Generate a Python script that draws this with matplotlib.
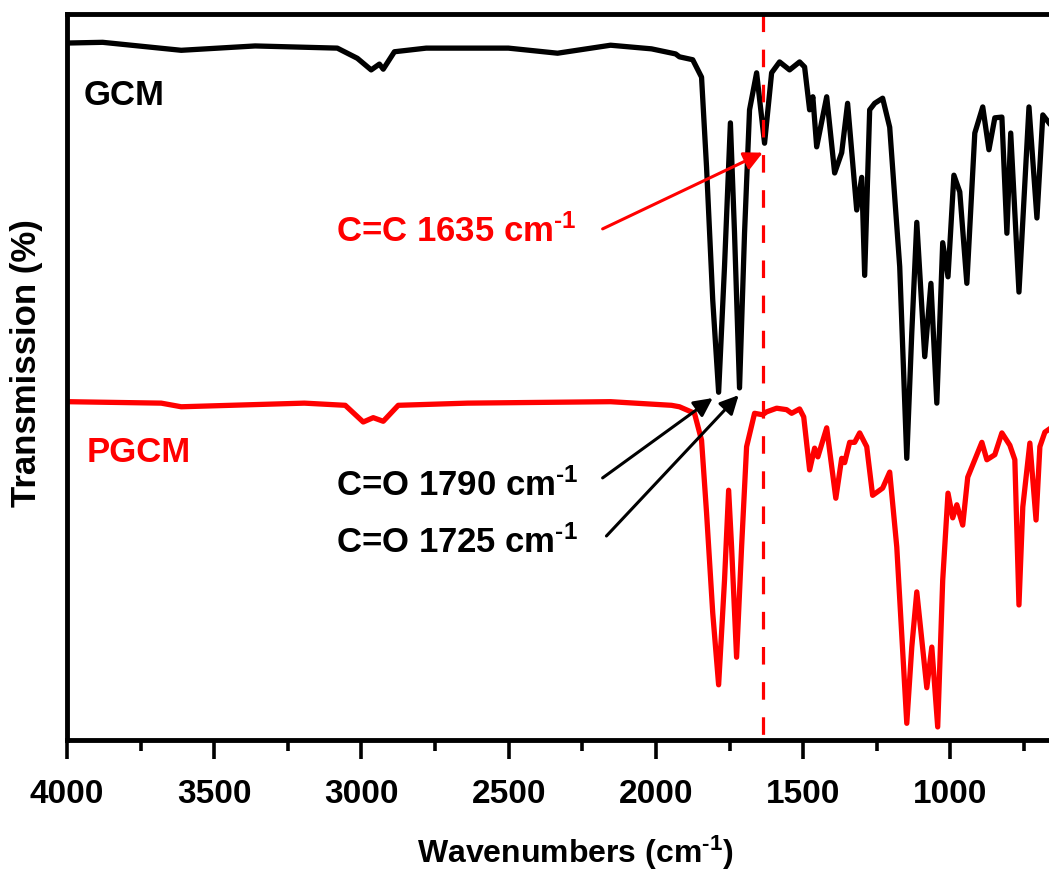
import matplotlib
matplotlib.use("Agg")
import matplotlib.pyplot as plt
from matplotlib.ticker import MultipleLocator

plt.rcParams['font.family'] = ['Liberation Sans', 'DejaVu Sans']
plt.rcParams['font.weight'] = 'bold'
plt.rcParams['mathtext.fontset'] = 'custom'
plt.rcParams['mathtext.rm'] = 'Liberation Sans:bold'
plt.rcParams['mathtext.bf'] = 'Liberation Sans:bold'
plt.rcParams['mathtext.it'] = 'Liberation Sans:bold'
plt.rcParams['mathtext.default'] = 'rm'

# GCM spectrum (wavenumber, transmission, offset upward)
gcm_wn = [4000, 3879, 3612, 3361, 3082, 3014, 2967, 2939, 2926, 2888, 2780, 2501,
          2334, 2154, 2015, 1933, 1920, 1875, 1845, 1828, 1807, 1787, 1767, 1747,
          1733, 1716, 1699, 1682, 1658, 1631, 1607, 1580, 1546, 1512, 1495, 1478,
          1467, 1454, 1420, 1393, 1369, 1349, 1318, 1301, 1291, 1274, 1257, 1230,
          1206, 1172, 1148, 1131, 1114, 1087, 1066, 1046, 1026, 1008, 988, 968,
          944, 917, 890, 869, 849, 825, 808, 795, 767, 733, 706, 686, 665]
gcm_t = [96.0, 96.1, 95.0, 95.6, 95.3, 93.9, 92.3, 93.1, 92.4, 94.8, 95.3, 95.3,
         94.6, 95.7, 95.2, 94.5, 94.1, 93.7, 91.3, 78.9, 60.6, 47.9, 65.2, 85.0,
         69.8, 48.5, 69.8, 86.8, 91.9, 82.2, 91.9, 93.4, 92.3, 93.4, 92.7, 86.8,
         88.6, 81.7, 88.6, 78.1, 80.9, 87.7, 73.0, 77.5, 64.0, 86.8, 87.7, 88.4,
         84.4, 65.2, 38.8, 56.1, 71.3, 52.8, 62.9, 46.4, 68.5, 63.8, 77.8, 75.5,
         62.9, 83.6, 87.2, 81.3, 85.7, 85.8, 69.8, 83.6, 61.7, 87.2, 71.9, 86.1, 85.0]

# PGCM spectrum
pgcm_wn = [4000, 3680, 3612, 3194, 3055, 2994, 2960, 2926, 2875, 2640, 2154, 1947,
           1920, 1869, 1845, 1828, 1807, 1787, 1767, 1753, 1743, 1726, 1709, 1692,
           1665, 1638, 1624, 1590, 1556, 1539, 1512, 1498, 1478, 1461, 1450, 1420,
           1389, 1369, 1359, 1342, 1325, 1308, 1284, 1264, 1240, 1230, 1206, 1182,
           1148, 1131, 1114, 1080, 1063, 1043, 1026, 1008, 992, 978, 958, 941,
           917, 893, 876, 849, 825, 798, 781, 767, 754, 730, 709, 696, 679, 665]
pgcm_t = [46.6, 46.4, 45.9, 46.4, 46.1, 43.8, 44.4, 43.9, 46.1, 46.4, 46.6, 46.1,
          45.9, 45.0, 41.3, 31.3, 17.5, 7.6, 22.0, 34.4, 26.6, 11.4, 26.6, 40.4,
          45.0, 44.8, 45.2, 45.7, 45.5, 45.0, 45.6, 44.5, 37.2, 40.2, 39.0, 43.0,
          33.3, 38.8, 38.2, 41.0, 41.0, 42.3, 40.4, 33.7, 34.4, 34.7, 36.9, 26.6,
          2.3, 12.8, 20.4, 7.2, 12.8, 1.8, 22.0, 34.0, 30.6, 32.4, 29.6, 36.2,
          38.6, 41.0, 38.6, 39.3, 42.3, 40.6, 38.6, 18.6, 32.1, 40.9, 30.3, 40.4,
          42.4, 42.8]

cc_line = 1635
inv_cm = r'cm$^{\text{-}1}$'

fig = plt.figure(figsize=(10.49, 8.73), dpi=100)
ax = fig.add_axes([67/1049, 1-740/873, 1-67/1049, (740-14)/873])

ax.plot(gcm_wn, gcm_t, color='black', lw=3.8, solid_joinstyle='round')
ax.plot(pgcm_wn, pgcm_t, color='#ff0000', lw=3.8, solid_joinstyle='round')
ax.plot([cc_line, cc_line], [100, -1.4], color='#ff0000', lw=2.3,
        ls=(0, (5.5, 5.5)), clip_on=False)

ax.set_xlim(4000, 665)
ax.set_ylim(0, 100)
ax.xaxis.set_major_locator(MultipleLocator(500))
ax.xaxis.set_minor_locator(MultipleLocator(250))
ax.set_yticks([])
ax.tick_params(axis='x', which='major', direction='out', length=14, width=2.6,
               labelsize=24, pad=14)
ax.tick_params(axis='x', which='minor', direction='out', length=8, width=2.6)
for s in ['left', 'bottom', 'top']:
    ax.spines[s].set_linewidth(3.5)
ax.spines['right'].set_visible(False)
for lab in ax.get_xticklabels():
    lab.set_fontweight('bold')

ax.text(3942, 87.5, 'GCM', fontsize=25, fontweight='bold', color='black', va='baseline')
ax.text(3935, 38.3, 'PGCM', fontsize=25, fontweight='bold', color='#ff0000', va='baseline')

ax.text(3086, 68.6, 'C=C 1635 ' + inv_cm, fontsize=25, color='#ff0000', va='baseline')
ax.text(3086, 33.7, 'C=O 1790 ' + inv_cm, fontsize=25, color='black', va='baseline')
ax.text(3086, 25.8, 'C=O 1725 ' + inv_cm, fontsize=25, color='black', va='baseline')

ax.annotate('', xy=(1637, 80.9), xytext=(2181, 70.4),
            arrowprops=dict(arrowstyle='-|>', color='#ff0000', lw=2.2,
                            mutation_scale=28, shrinkA=0, shrinkB=0))
ax.annotate('', xy=(1807, 47.1), xytext=(2181, 36.1),
            arrowprops=dict(arrowstyle='-|>', color='black', lw=2.2,
                            mutation_scale=28, shrinkA=0, shrinkB=0))
ax.annotate('', xy=(1719, 47.5), xytext=(2168, 28.1),
            arrowprops=dict(arrowstyle='-|>', color='black', lw=2.2,
                            mutation_scale=28, shrinkA=0, shrinkB=0))

fig.text(575/1049, 1-863/873, 'Wavenumbers (' + inv_cm + ')', fontsize=23,
         ha='center', va='baseline')
fig.text(27/1049, 1-363/873, 'Transmission (%)', fontsize=25, rotation=90,
         ha='center', va='center')

fig.savefig('out.png', dpi=100)
